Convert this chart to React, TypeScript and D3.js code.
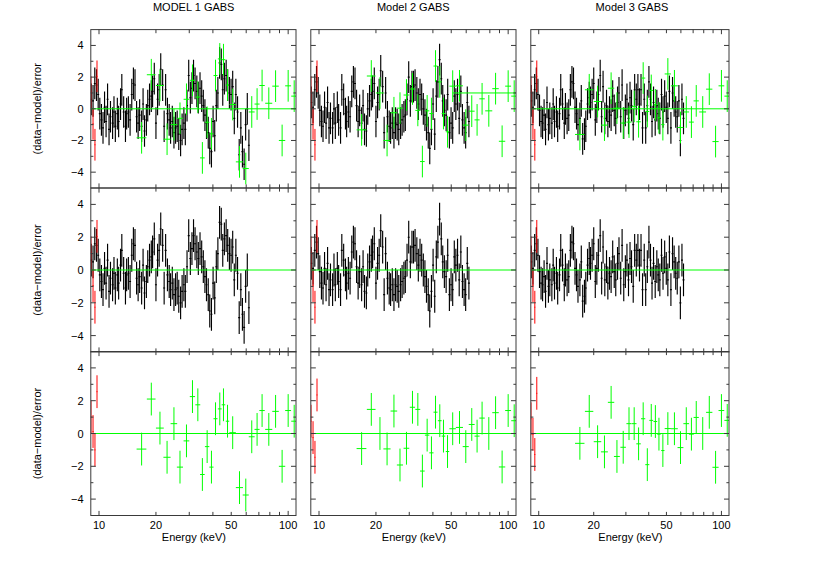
import React from "react";
import * as d3 from "d3";

const blackEnergy = [
  9.1, 9.3, 9.5,
  9.7, 9.9, 10.1, 10.3, 10.5, 10.7, 10.9, 11.1, 11.3, 11.5,
  11.8, 12.0, 12.2, 12.5, 12.7, 13.0, 13.2, 13.5, 13.8, 14.0,
  14.3, 14.6, 14.9, 15.2, 15.5, 15.8, 16.1, 16.4, 16.8, 17.1,
  17.4, 17.8, 18.1, 18.5, 18.9, 19.2, 19.6, 20.0, 20.4, 20.8,
  21.2, 21.7, 22.1, 22.5, 23.0, 23.5, 23.9, 24.4, 24.9, 25.4,
  25.9, 26.4, 27.0, 27.5, 28.1, 28.6, 29.2, 29.8, 30.4, 31.0,
  31.6, 32.2, 32.9, 33.5, 34.2, 34.9, 35.6, 36.3, 37.0, 37.8,
  38.5, 39.3, 40.1, 40.9, 41.7, 42.5, 43.4, 44.3, 45.1, 46.0,
  47.0, 47.9, 48.9, 49.9, 50.9, 51.9, 52.9, 54.0, 55.1, 56.2,
  57.3, 58.5, 59.6, 60.8, 62.0,
];

const blackModel1 = [
  0.6, 0.5, 1.6,
  1.5, 0.9, -0.3, -0.7, -1.2, 0.1, -0.8, 0.6, -1.3, -0.5,
  -0.9, -0.2, -1.1, -0.3, -0.8, 0.3, 1.2, -0.2, -1.1, -0.3,
  -0.2, -0.7, 0.9, 1.6, 1.5, -0.5, -0.9, -0.4, -1.1, 0.3,
  -1.4, -0.7, 0.2, 0.6, 0.8, 1.1, 1.9, -0.9, 0.6, 1.2,
  2.5, 1.5, -1.1, 1.2, -0.3, -0.7, -1.2, -0.8, -1.5, -1.2,
  -1.1, -1.6, -2.0, -1.3, -0.9, -1.3, 0.2, 2.1, 0.7, 1.3,
  2.1, 1.6, 1.1, 0.7, 1.3, 0.8, 0.2, -0.4, -0.9, -1.5,
  -2.5, -2.7, -0.8, -1.7, 0.2, 1.0, 2.9, 2.8, 1.2, 1.9,
  2.1, 1.5, 1.0, 0.9, 1.4, -0.6, 0.9, -0.2, -2.9, -1.2,
  -2.7, -3.5, -1.0, 0.0, -2.3,
];

const blackModel2 = [
  0.4, 0.1, 1.2,
  1.7, 1.0, -0.1, -0.8, -1.1, 0.1, -0.9, 0.4, -1.2, -0.6,
  -1.2, 0.0, -0.9, 0.1, -0.7, -1.2, 1.2, 0.6, -0.3, -0.8,
  -0.2, -0.5, 1.1, 1.7, 1.6, 0.2, -0.8, -0.1, -0.9, 0.2,
  -1.3, -1.4, 0.0, 0.5, 0.9, 1.1, 1.6, -0.8, 0.4, 0.9,
  2.4, 1.4, -1.5, 1.0, -0.5, -1.1, -1.2, -0.9, -1.5, -0.9,
  -1.0, -1.3, -0.9, -0.7, -0.5, -0.4, 0.6, 2.0, 0.5, 1.4,
  1.4, 1.5, 1.0, 0.3, 0.9, 0.6, 0.0, -0.4, -1.0, -1.5,
  -2.5, -1.3, 0.3, -1.6, 0.8, 1.7, 3.1, 1.9, 0.5, -0.1,
  -0.4, 0.9, -1.5, -0.9, -1.2, 0.8, 0.3, 0.9, -0.6, 1.1,
  -0.7, -1.2, -1.5, 0.4, -0.8,
];

const blackModel3 = [
  0.5, 0.1, 1.2,
  1.6, 0.9, -0.1, -0.8, -0.9, -0.4, -1.3, 0.4, -1.0, -0.6,
  -0.9, 0.3, -0.8, -0.2, -1.1, -0.3, 1.2, 0.3, -0.9, 0.0,
  -0.6, -0.4, 1.2, 1.7, 1.6, 0.1, -0.3, -1.0, -0.6, 0.5,
  -1.9, -1.6, -1.1, 0.3, 0.7, 0.4, 0.9, 1.6, -0.7, 0.1,
  0.9, 2.1, -0.5, 1.4, -0.6, 0.2, -0.8, -0.2, -0.4, 0.8,
  -0.1, -0.6, 0.4, 1.0, -0.5, 1.5, -0.9, -0.1, 0.6, -0.6,
  0.7, 0.2, -1.0, 1.2, 0.6, 1.2, 0.3, 1.2, -1.2, 0.6,
  -1.2, 0.2, 1.7, 0.6, -0.8, 0.4, -0.7, 0.2, -0.3, -0.6,
  0.9, -0.2, 0.8, 0.1, -0.6, 1.1, -1.2, 1.0, 0.5, -0.2,
  -0.5, 0.5, -2.0, 0.6, -0.6,
];

const redEnergy = [9.07, 9.3, 9.52, 9.76];
const redTop = [1.05, -0.95, -2.27, 2.05];
const redBottomModel1 = [1.0, 0.12, -1.0, 2.55];
const redBottomModel2 = [0.75, -0.25, -1.45, 2.35];
const redBottomModel3 = [0.9, -0.05, -1.28, 2.45];

const greenEnergy = [16.8, 18.9, 21, 22.9, 24.9, 26.8, 29, 31.2, 33.3, 35.2, 37.3, 39.3, 41.3, 43.5, 45.5, 47.8, 50.9, 55.3, 59.7, 64.2, 68.5, 72.8, 79, 85.8, 92.9, 100, 107.6];
const greenHalfWidth = [1, 1, 1, 1, 1, 1, 1, 1, 1, 1, 1, 1, 1, 1, 1, 1, 2, 2.4, 2.2, 2.3, 2.1, 2.4, 3.4, 3.4, 3.6, 3.6, 3.8];
const greenTopModel1 = [-1.83, 2.15, 1.47, -1.92, -1.0, -0.6, 0.6, 1.8, 0.74, -3.1, -0.85, -1.58, 2.1, 3.15, 3.1, 1.5, 0.27, -3.35, -3.77, -0.2, 0.3, 1.47, 0.35, 1.43, -2.0, 1.45, 0.8];
const greenTopModel2 = [-1.33, 2.07, 1.0, -2.0, -0.25, 0.04, 0.87, 1.25, -0.1, -3.33, -0.13, -0.3, 2.7, 1.7, -0.3, -1.45, 1.43, 1.45, -1.03, -0.15, -0.7, 0.63, -0.13, 1.27, -2.05, 1.43, 0.8];
const greenTopModel3 = [-1.62, 1.2, 0.46, -1.03, 1.3, 0.04, -0.9, -0.84, 0.15, -0.82, 1.94, -0.17, 1.16, 0.25, -0.57, -1.0, 2.2, 1.45, -1.18, -0.2, -0.84, 0.5, -0.2, 1.24, -2.07, 1.45, 0.8];
const greenBottomModel1 = [-0.95, 2.1, 0.33, -1.45, 0.6, -2.05, -0.45, 2.25, 1.75, -2.5, -0.8, -2.05, 0.9, 1.5, 1.75, 0.75, 0.05, -3.3, -3.75, -0.2, 0.25, 1.4, 0.25, 1.35, -2.0, 1.4, 0.75];
const greenBottomModel2 = [-0.92, 1.47, 0, -0.94, 1.37, -1.92, -0.9, 1.6, 1.47, -2.29, -0.1, -1.18, 1.3, 0.78, -0.16, -1.1, 0.29, 0.37, -0.8, 0.55, -0.16, 0.94, 0, 1.27, -2.04, 1.4, 0.78];
const greenBottomModel3 = [-0.6, 1.35, -0.5, -1.12, 1.9, -1.4, -0.84, 0.6, 0.6, -0.63, 0.9, -1.9, 0.8, 0.73, -0.04, -1.04, 0.3, 0.29, -0.86, 0.6, -0.04, 0.98, 0, 1.29, -2.06, 1.4, 0.8];

const errorSize = 1;
const xDomain = [9.05, 110];
const yDomain = [-5, 5];
const xMajor = [10, 20, 50, 100];
const xTicksAll = [10, 20, 30, 40, 50, 60, 70, 80, 90, 100];
const yMajor = [-4, -2, 0, 2, 4];
const yMinor = [-3, -1, 1, 3];
const titles = ["MODEL 1 GABS", "Model 2 GABS", "Model 3 GABS"];
const yTitle = "(data\u2212model)/error";
const xTitle = "Energy (keV)";

const columns = [
  { x0: 90.8, x1: 296 },
  { x0: 310.8, x1: 516 },
  { x0: 530.8, x1: 729 },
];
const rows = [
  { y0: 29.6, y1: 188 },
  { y0: 188, y1: 352 },
  { y0: 351.5, y1: 515.5 },
];

const blackByCol = [blackModel1, blackModel2, blackModel3];
const greenTopByCol = [greenTopModel1, greenTopModel2, greenTopModel3];
const greenBottomByCol = [greenBottomModel1, greenBottomModel2, greenBottomModel3];
const redBottomByCol = [redBottomModel1, redBottomModel2, redBottomModel3];

const FONT = "'Liberation Sans', Arial, sans-serif";
const AXIS = "#3a3a3a";

function Cross({ e, v, hw, x, y, color, sw }: any) {
  return (
    <g stroke={color} strokeWidth={sw} fill="none">
      <line x1={x(e)} x2={x(e)} y1={y(v - errorSize)} y2={y(v + errorSize)} />
      <line x1={x(e - hw)} x2={x(e + hw)} y1={y(v)} y2={y(v)} />
    </g>
  );
}

function Panel({ c, r }: { c: number; r: number }) {
  const col = columns[c];
  const row = rows[r];
  const x = d3.scaleLog().domain(xDomain).range([col.x0, col.x1]);
  const y = d3.scaleLinear().domain(yDomain).range([row.y1, row.y0]);
  const clip = `clip-${c}-${r}`;
  const black = r < 2 ? blackByCol[c] : null;
  const red = r < 2 ? redTop : redBottomByCol[c];
  const green = r === 0 ? greenTopByCol[c] : r === 2 ? greenBottomByCol[c] : null;
  const modelLine = r === 0 && c === 1 ? [50.9, 110, 1] : [9.05, 110, 0];
  return (
    <g>
      <clipPath id={clip}>
        <rect x={col.x0} y={row.y0} width={col.x1 - col.x0} height={row.y1 - row.y0} />
      </clipPath>
      <g clipPath={`url(#${clip})`}>
        {black &&
          black.map((v, i) => (
            <Cross key={i} e={blackEnergy[i]} v={v} hw={blackEnergy[i] * 0.012} x={x} y={y} color="#000" sw={1.15} />
          ))}
        {red.map((v, i) => (
          <Cross key={i} e={redEnergy[i]} v={v} hw={0.06} x={x} y={y} color="#ff0000" sw={1} />
        ))}
        {green &&
          green.map((v, i) => (
            <Cross key={i} e={greenEnergy[i]} v={v} hw={greenHalfWidth[i]} x={x} y={y} color="#00ff00" sw={1} />
          ))}
        <line
          x1={x(modelLine[0])}
          x2={x(modelLine[1])}
          y1={y(modelLine[2])}
          y2={y(modelLine[2])}
          stroke="#00ff00"
          strokeWidth={1}
        />
      </g>
      <rect x={col.x0} y={row.y0} width={col.x1 - col.x0} height={row.y1 - row.y0} fill="none" stroke={AXIS} strokeWidth={1} />
      {xTicksAll.map((t) => {
        const len = t === 10 || t === 100 ? 4.6 : 3.6;
        return (
          <g key={t} stroke={AXIS} strokeWidth={1}>
            <line x1={x(t)} x2={x(t)} y1={row.y1} y2={row.y1 - len} />
            <line x1={x(t)} x2={x(t)} y1={row.y0} y2={row.y0 + len} />
          </g>
        );
      })}
      {yMajor.map((t) => (
        <g key={t} stroke={AXIS} strokeWidth={1}>
          <line x1={col.x0} x2={col.x0 + 5} y1={y(t)} y2={y(t)} />
          <line x1={col.x1} x2={col.x1 - 5} y1={y(t)} y2={y(t)} />
        </g>
      ))}
      {yMinor.map((t) => (
        <g key={t} stroke={AXIS} strokeWidth={1}>
          <line x1={col.x0} x2={col.x0 + 2.6} y1={y(t)} y2={y(t)} />
          <line x1={col.x1} x2={col.x1 - 2.6} y1={y(t)} y2={y(t)} />
        </g>
      ))}
      {c === 0 &&
        yMajor.map((t) => (
          <text key={t} x={83.5} y={y(t) + 4} textAnchor="end" fontSize={11} fill="#000" fontFamily={FONT}>
            {t < 0 ? `\u2212${-t}` : t}
          </text>
        ))}
      {c === 0 && (
        <text
          transform={`translate(40.5,${(row.y0 + row.y1) / 2}) rotate(-90)`}
          textAnchor="middle"
          fontSize={11}
          fill="#000"
          fontFamily={FONT}
        >
          {yTitle}
        </text>
      )}
      {r === 0 && (
        <text x={[193.7, 413.3, 632][c]} y={11} textAnchor="middle" fontSize={11} fill="#000" fontFamily={FONT}>
          {titles[c]}
        </text>
      )}
      {r === 2 &&
        xMajor.map((t) => (
          <text key={t} x={x(t)} y={528.5} textAnchor="middle" fontSize={11} fill="#000" fontFamily={FONT}>
            {t}
          </text>
        ))}
      {r === 2 && (
        <text x={(col.x0 + col.x1) / 2 + 0.5} y={541} textAnchor="middle" fontSize={11} fill="#000" fontFamily={FONT}>
          {xTitle}
        </text>
      )}
    </g>
  );
}

export default function App() {
  return (
    <svg width={817} height={578} style={{ position: "absolute", left: 0, top: 0, background: "#fff" }}>
      {columns.map((_, c) => rows.map((_, r) => <Panel key={`${c}-${r}`} c={c} r={r} />))}
    </svg>
  );
}
